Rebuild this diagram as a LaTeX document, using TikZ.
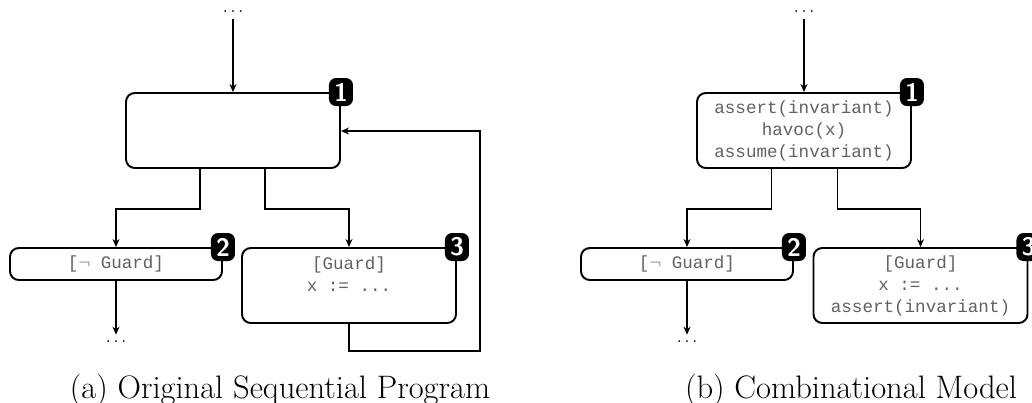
\documentclass[tikz,border=0pt]{standalone}
\usepackage{fontspec}
\setmonofont{Liberation Mono}
\usetikzlibrary{arrows.meta}

\begin{document}
\begin{tikzpicture}[line width=0.6pt,
    blk/.style={draw, line width=1.1pt, rounded corners=5pt, minimum width=4.28cm,
      minimum height=1.5cm, align=center, text=black!62,
      font=\ttfamily\fontsize{10}{12.5}\selectfont},
    grd/.style={blk, minimum width=4.24cm, minimum height=0.64cm},
    tag/.style={fill=black, rounded corners=4pt, text=white, inner sep=0pt,
      minimum width=0.48cm, minimum height=0.56cm, font=\sffamily\bfseries\Large},
    arr/.style={-{Stealth[length=1.6mm, width=1.4mm, inset=0.5mm]}},
    captext/.style={anchor=base, font=\fontsize{18.5}{20}\selectfont}]
    \useasboundingbox (0,0) rectangle (20.64,-8.04);

    % (a) original program
    \node[blk] (heada) at (4.66,-2.61) {};
    \node (topa) at (heada.north |- 0,-0.24) {$\dots$};
    \node[grd] (exita) at (2.32,-5.28) {[$\neg$ Guard]};
    \node[blk] (bodya) at (6.98,-5.71) {[Guard]\\x := ...\\~};
    \node (enda) at (exita.south |- 0,-6.84) {$\dots$};
    \coordinate (backa) at (9.6,-2.62);
    \node[tag] (ta1) at (heada.north east) {1};
    \node[tag] (ta2) at (exita.north east) {2};
    \node[tag] (ta3) at (bodya.north east) {3};

    \draw[arr] (topa) -- (heada);
    \draw[arr] ([xshift=-0.66cm]heada.south) -- ++(0,-0.8) -| (exita);
    \draw[arr] ([xshift=0.64cm]heada.south) -- ++(0,-0.8) -| (bodya);
    \draw[arr] (exita) -- (enda);
    \draw[arr] (bodya.south) -- ++(0,-0.54) -| (backa) -- (backa -| heada.east);
    \node[captext] (capa) at (5.6,-7.96) {(a) Original Sequential Program};

    % (b) combinational model
    \node[blk] (headb) at (16.08,-2.61)
    {assert(invariant)\\havoc(x)\\assume(invariant)};
    \node (topb) at (headb.north |- 0,-0.24) {$\dots$};
    \node[grd] (exitb) at (13.74,-5.28) {[$\neg$ Guard]};
    \node[blk] (bodyb) at (18.41,-5.71) {[Guard]\\x := ...\\assert(invariant)};
    \node (endb) at (exitb.south |- 0,-6.84) {$\dots$};
    \node[tag] (tb1) at (headb.north east) {1};
    \node[tag] (tb2) at (exitb.north east) {2};
    \node[tag] (tb3) at (bodyb.north east) {3};

    \draw[arr] (topb) -- (headb);
    \draw[arr] ([xshift=-0.65cm]headb.south) -- ++(0,-0.8) -| (exitb);
    \draw[arr] ([xshift=0.67cm]headb.south) -- ++(0,-0.8) -| (bodyb);
    \draw[arr] (exitb) -- (endb);
    \node[captext] (capb) at (17.02,-7.96) {(b) Combinational Model};
\end{tikzpicture}
\end{document}
